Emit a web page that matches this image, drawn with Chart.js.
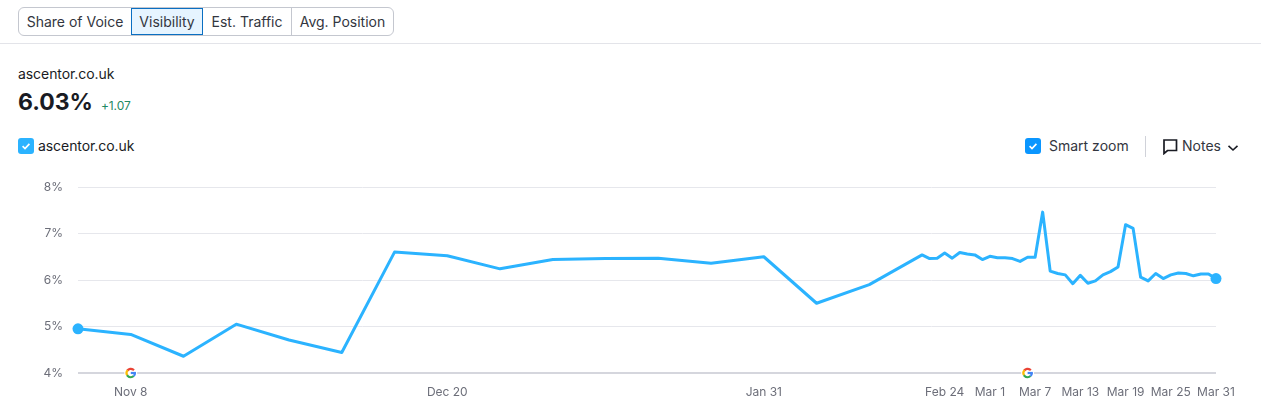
<!DOCTYPE html>
<html><head><meta charset="utf-8">
<script src="https://cdn.jsdelivr.net/npm/chart.js@4"></script>
<style>
html,body{margin:0;padding:0;background:#fff;width:1261px;height:415px;overflow:hidden;font-family:Inter,sans-serif;color:#191b23}
.abs{position:absolute;white-space:nowrap}
#tabs{left:18px;top:7px;height:27px;display:flex;border:1px solid #c4c7cf;border-radius:6px;box-sizing:content-box;font-size:14px;line-height:27px;color:#333640}
#tabs div{padding:0;border-left:1px solid #c4c7cf;box-sizing:border-box;text-align:center}
#tabs div:first-child{border-left:none;width:112px;border-radius:6px 0 0 6px}
#tabs div.on{background:#e6f4ff;outline:1px solid #0a6fc2;outline-offset:-1px;border-left:none;width:72px}
#hr{left:0;top:43px;width:1261px;height:1px;background:#e3e4e9}
#wrap{position:absolute;left:0;top:170px;width:1261px;height:245px}
</style></head><body>
<div class="abs" id="tabs"><div>Share of Voice</div><div class="on">Visibility</div><div style="width:88px;border-left:none">Est. Traffic</div><div style="width:102px">Avg. Position</div></div>
<div class="abs" id="hr"></div>
<div class="abs" style="left:18px;top:65px;font-size:14px;line-height:17px;letter-spacing:-0.07px">ascentor.co.uk</div>
<div class="abs" style="left:18px;top:88px;font-size:23px;line-height:29px;font-weight:700">6.03%</div>
<div class="abs" style="left:101px;top:98px;font-size:12px;line-height:15px;color:#1f8a63;letter-spacing:-0.1px">+1.07</div>
<svg class="abs" style="left:18px;top:138px" width="16" height="16"><rect width="16" height="16" rx="3" fill="#2bb3ff"/><path d="M4.6 8.2l2.4 2.3 4.4-4.6" fill="none" stroke="#fff" stroke-width="1.7"/></svg>
<div class="abs" style="left:38px;top:137px;font-size:14px;line-height:17px;letter-spacing:-0.07px">ascentor.co.uk</div>
<svg class="abs" style="left:1025px;top:138px" width="16" height="16"><rect width="16" height="16" rx="3" fill="#0a96ff"/><path d="M4.6 8.2l2.4 2.3 4.4-4.6" fill="none" stroke="#fff" stroke-width="1.7"/></svg>
<div class="abs" style="left:1049px;top:137px;font-size:14px;line-height:17px;color:#333640">Smart zoom</div>
<div class="abs" style="left:1145px;top:136px;width:1px;height:21px;background:#d0d2d9"></div>
<svg class="abs" style="left:1163px;top:139px" width="15" height="16"><path d="M1 1h12.5v10.5H4.5L1 14.5z" fill="none" stroke="#191b23" stroke-width="1.7"/></svg>
<div class="abs" style="left:1182px;top:137px;font-size:14px;line-height:17px;color:#333640">Notes</div>
<svg class="abs" style="left:1227px;top:144px" width="12" height="8"><path d="M1.5 1.8L6 6l4.5-4.2" fill="none" stroke="#191b23" stroke-width="1.6"/></svg>
<div id="wrap"><canvas id="c" width="1261" height="245" style="display:block;width:1261px;height:245px"></canvas></div>
<script>
const tickDays=[7,49,91,115,121,127,133,139,145,151];
const tickLabels=["Nov 8","Dec 20","Jan 31","Feb 24","Mar 1","Mar 7","Mar 13","Mar 19","Mar 25","Mar 31"];
const days=[0,7,14,21,28,35,42,49,56,63,70,77,84,91,98,105,112,113,114,115,116,117,118,119,120,121,122,123,124,125,126,127,128,129,130,131,132,133,134,135,136,137,138,139,140,141,142,143,144,145,146,147,148,149,150,151];
const visibility=[4.95,4.83,4.36,5.05,4.71,4.44,6.60,6.52,6.24,6.44,6.46,6.47,6.36,6.50,5.50,5.90,6.54,6.46,6.47,6.58,6.47,6.59,6.56,6.54,6.44,6.51,6.48,6.48,6.46,6.40,6.49,6.49,7.46,6.19,6.14,6.11,5.92,6.10,5.93,5.98,6.11,6.18,6.28,7.19,7.11,6.06,5.98,6.14,6.03,6.11,6.15,6.14,6.09,6.13,6.13,6.03];
const yTicks=[4,5,6,7,8];
const googleUpdateDays=[7,126];
const LINE='#2bb3ff';
const googleMarks={id:'googleMarks',afterDatasetsDraw(ch){
  const c=ch.ctx,y=ch.scales.y.getPixelForValue(4);
  googleUpdateDays.forEach(d=>{
    const x=ch.scales.x.getPixelForValue(d),r=4.2;
    c.save();c.fillStyle='#fff';c.beginPath();c.arc(x,y,6.5,0,7);c.fill();
    c.lineWidth=2.2;c.lineCap='butt';
    [['#ea4335',-2.5,-0.7],['#fbbc05',-3.7,-2.4],['#34a853',0.8,2.6],['#4285f4',-0.1,0.8]].forEach(s=>{
      c.strokeStyle=s[0];c.beginPath();c.arc(x,y,r,s[1],s[2]);c.stroke();});
    c.strokeStyle='#4285f4';c.beginPath();c.moveTo(x,y);c.lineTo(x+r+1,y);c.stroke();
    c.restore();});
}};
new Chart(document.getElementById('c'),{
  type:'line',
  data:{datasets:[{data:days.map((d,i)=>({x:d,y:visibility[i]})),borderColor:LINE,backgroundColor:LINE,borderWidth:3,tension:0,clip:false,borderJoinStyle:'round',
    pointBorderWidth:0,pointRadius:ctx=>(ctx.dataIndex===0||ctx.dataIndex===days.length-1)?5.5:0,pointHoverRadius:0}]},
  plugins:[googleMarks],
  options:{responsive:false,animation:false,devicePixelRatio:1,
    layout:{padding:{top:17,right:45,left:0,bottom:0}},
    plugins:{legend:{display:false},tooltip:{enabled:false}},
    scales:{
      x:{type:'linear',min:0,max:151,
        afterBuildTicks:a=>{a.ticks=tickDays.map(v=>({value:v}));},
        afterFit:a=>{a.height=42;a.paddingLeft=0;a.paddingRight=0;},
        grid:{display:false},border:{display:false},
        ticks:{autoSkip:false,maxRotation:0,padding:4,color:'#6c6e79',font:{family:'Inter',size:12},callback:v=>tickLabels[tickDays.indexOf(v)]}},
      y:{min:4,max:8,
        afterBuildTicks:a=>{a.ticks=yTicks.map(v=>({value:v}));},
        afterFit:a=>{a.width=78;a.paddingTop=0;a.paddingBottom=0;},
        grid:{drawTicks:false,lineWidth:c=>c.tick.value===4?2:1,color:c=>c.tick.value===4?'#d5d6dd':'#e6e7ec'},border:{display:false},
        ticks:{padding:15,color:'#6c6e79',font:{family:'Inter',size:12},callback:v=>v+'%'}}
    }
  }
});
</script></body></html>
